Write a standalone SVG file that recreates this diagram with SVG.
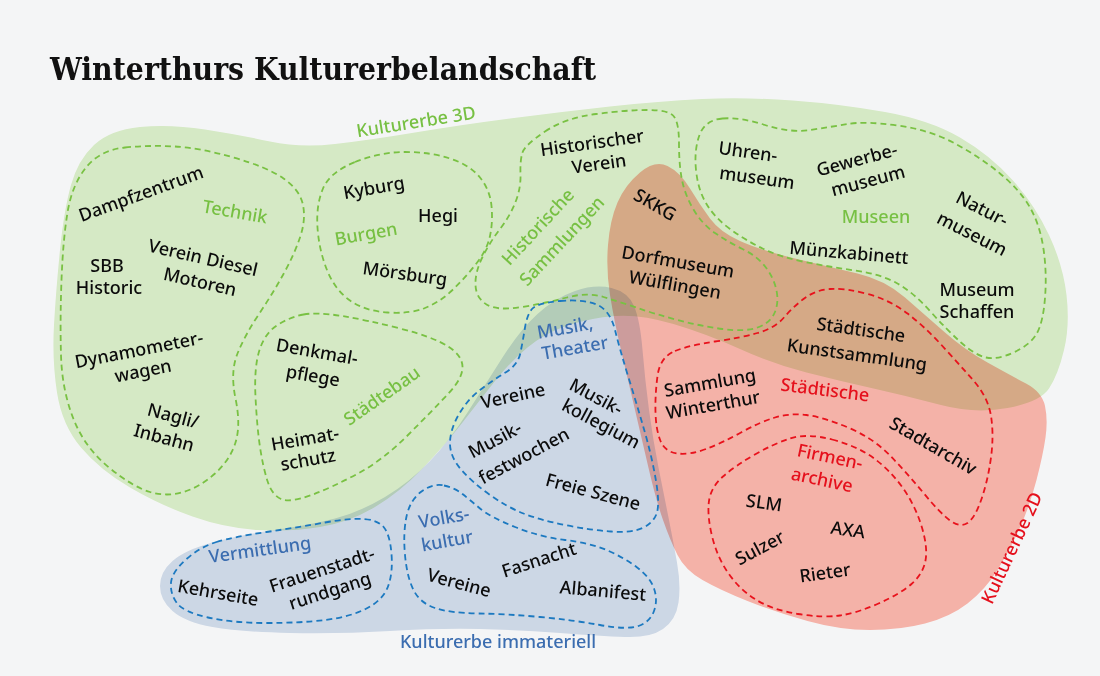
<svg xmlns="http://www.w3.org/2000/svg" width="1100" height="676" viewBox="0 0 1100 676">
<style>
.blob{mix-blend-mode:multiply;stroke:none}
.dg{fill:none;stroke:#79c143;stroke-width:1.8;stroke-dasharray:6 4}
.db{fill:none;stroke:#1c79c0;stroke-width:1.8;stroke-dasharray:6 4}
.dr{fill:none;stroke:#e8121c;stroke-width:1.8;stroke-dasharray:6 4}
text{font-family:"Noto Sans","Liberation Sans",sans-serif;font-size:18px;font-weight:500;text-anchor:middle}
.k{fill:#0b0b0b}
.g{fill:#77c043}
.b{fill:#3b6db0}
.r{fill:#e5101c}
.title{font-family:"DejaVu Serif","Liberation Serif",serif;font-weight:bold;font-size:31px;text-anchor:start;fill:#111}
</style>
<rect width="1100" height="676" fill="#f4f5f6"/>
<text class="title" x="50" y="80" textLength="546" lengthAdjust="spacingAndGlyphs">Winterthurs Kulturerbelandschaft</text>

<g id="kulturerbe-3d">
<path class="blob" fill="#dff3cc" d="M 140,127 Q 170,124 205,129.5 Q 240,135 270,141.5 Q 300,148 335,144 Q 370,140 415,132.5 Q 460,125 510,118.5 Q 560,112 610,106.5 Q 660,101 702.5,99 Q 745,97 792.5,100.5 Q 840,104 885,112 Q 930,120 960,137.5 Q 990,155 1012.5,180 Q 1035,205 1049,235 Q 1063,265 1066.5,295 Q 1070,325 1064,350 Q 1058,375 1049,388.5 Q 1040,402 1007.5,408 Q 975,414 941,405 Q 907,396 873.5,388.5 Q 840,381 806.5,372.5 Q 773,364 740,349 Q 707,334 673.5,324 Q 640,314 615,316 Q 590,318 567.5,325.5 Q 545,333 527.5,347.5 Q 510,362 495,381 Q 480,400 462.5,422.5 Q 445,445 422.5,468.5 Q 400,492 375,507 Q 350,522 320,527 Q 290,532 257.5,530 Q 225,528 192.5,516.5 Q 160,505 130,487.5 Q 100,470 81,447.5 Q 62,425 57,392.5 Q 52,360 54,325 Q 56,290 60,250 Q 64,210 71,185 Q 78,160 94,145 Q 110,130 140,127 Z"/>
</g>
<g id="kulturerbe-immateriell">
<path class="blob" fill="#d6e0ee" d="M 611.5,288 Q 628,292 634,306 Q 640,320 642.5,350 Q 645,380 649,410 Q 653,440 658.5,467.5 Q 664,495 668.5,517.5 Q 673,540 677,562.5 Q 681,585 678.5,602.5 Q 676,620 663,629 Q 650,638 625,637 Q 600,636 560,633 Q 520,630 480,629 Q 440,628 390,631 Q 340,634 290,633 Q 240,632 212.5,627 Q 185,622 172.5,611 Q 160,600 160,586 Q 160,572 172.5,561 Q 185,550 212.5,542.5 Q 240,535 275,530 Q 310,525 335,518.5 Q 360,512 385,497 Q 410,482 430,461 Q 450,440 467.5,412.5 Q 485,385 502.5,357.5 Q 520,330 537.5,314 Q 555,298 575,291 Q 595,284 611.5,288 Z"/>
</g>
<g id="kulturerbe-2d">
<path class="blob" fill="#ffb9ae" d="M 667.5,166 Q 680,172 690,188.5 Q 700,205 710,218.5 Q 720,232 740,241 Q 760,250 795,258.5 Q 830,267 857.5,273.5 Q 885,280 905,297.5 Q 925,315 945,332.5 Q 965,350 987.5,362.5 Q 1010,375 1026,383.5 Q 1042,392 1045,406 Q 1048,420 1045.5,437.5 Q 1043,455 1036.5,480 Q 1030,505 1020,527.5 Q 1010,550 997.5,570 Q 985,590 967.5,603.5 Q 950,617 925,623.5 Q 900,630 870,630 Q 840,630 807.5,621 Q 775,612 747.5,601 Q 720,590 702.5,580 Q 685,570 677.5,555 Q 670,540 663,520 Q 656,500 649,470 Q 642,440 635,410 Q 628,380 621,350 Q 614,320 610,295 Q 606,270 608,245 Q 610,220 617.5,202.5 Q 625,185 640,172.5 Q 655,160 667.5,166 Z"/>
</g>

<g id="technik">
<path class="dg" d="M 125,147.5 Q 150,145 175,146.5 Q 200,148 233.5,157.5 Q 267,167 283.5,178.5 Q 300,190 303,205 Q 306,220 300,237.5 Q 294,255 283.5,274 Q 273,293 259,314 Q 245,335 237.5,353.5 Q 230,372 235.5,398.5 Q 241,425 235.5,442.5 Q 230,460 215,473.5 Q 200,487 183.5,492 Q 167,497 150,492 Q 133,487 109,467.5 Q 85,448 73.5,419 Q 62,390 61,355 Q 60,320 61.5,280 Q 63,240 67.5,212.5 Q 72,185 86,167.5 Q 100,150 125,147.5 Z"/>
<text class="g" transform="translate(235,212) rotate(10)" dy="6">Technik</text>
<text class="k" transform="translate(141,194) rotate(-20)" dy="6">Dampfzentrum</text>
<text class="k" transform="translate(107,266)" dy="6">SBB</text>
<text class="k" transform="translate(109,288)" dy="6">Historic</text>
<text class="k" transform="translate(203,258) rotate(13)" dy="6">Verein Diesel</text>
<text class="k" transform="translate(200,282) rotate(13)" dy="6">Motoren</text>
<text class="k" transform="translate(139,350) rotate(-11)" dy="6">Dynamometer-</text>
<text class="k" transform="translate(143,371) rotate(-11)" dy="6">wagen</text>
<text class="k" transform="translate(173,416) rotate(15)" dy="6">Nagli/</text>
<text class="k" transform="translate(164,438) rotate(15)" dy="6">Inbahn</text>
</g>

<g id="burgen">
<path class="dg" d="M 355,162 Q 380,152 405,152 Q 430,152 450,158.5 Q 470,165 480,177.5 Q 490,190 491.5,206 Q 493,222 490,236 Q 487,250 476,264 Q 465,278 452.5,290 Q 440,302 425,308 Q 410,314 387.5,312.5 Q 365,311 350,300.5 Q 335,290 327,270 Q 319,250 317.5,227.5 Q 316,205 323,188.5 Q 330,172 355,162 Z"/>
<text class="g" transform="translate(366,234) rotate(-10)" dy="6">Burgen</text>
<text class="k" transform="translate(374,188) rotate(-10)" dy="6">Kyburg</text>
<text class="k" transform="translate(438,216)" dy="6">Hegi</text>
<text class="k" transform="translate(405,274) rotate(8)" dy="6">Mörsburg</text>
</g>

<g id="historische-sammlungen">
<path class="dg" d="M 545,131.5 Q 565,118 596,114 Q 627,110 647.5,110 Q 668,110 673.5,116 Q 679,122 679,143.5 Q 679,165 682,180 Q 685,195 693.5,209.5 Q 702,224 715,233 Q 728,242 742.5,249 Q 757,256 765.5,267 Q 774,278 776.5,290.5 Q 779,303 774.5,313 Q 770,323 757.5,327.5 Q 745,332 722.5,329 Q 700,326 677.5,320 Q 655,314 637.5,308 Q 620,302 603.5,297 Q 587,292 567,297.5 Q 547,303 522,307 Q 497,311 486.5,304.5 Q 476,298 475.5,285 Q 475,272 482.5,257 Q 490,242 500,229 Q 510,216 515.5,202 Q 521,188 520.5,174 Q 520,160 522.5,152.5 Q 525,145 545,131.5 Z"/>
<text class="g" transform="translate(538,227) rotate(-47)" dy="6">Historische</text>
<text class="g" transform="translate(562,241) rotate(-47)" dy="6">Sammlungen</text>
<text class="k" transform="translate(592,143) rotate(-8)" dy="6">Historischer</text>
<text class="k" transform="translate(599,164) rotate(-8)" dy="6">Verein</text>
<text class="k" transform="translate(655,205) rotate(30)" dy="6">SKKG</text>
<text class="k" transform="translate(678,262) rotate(10)" dy="6">Dorfmuseum</text>
<text class="k" transform="translate(675,285) rotate(10)" dy="6">Wülflingen</text>
</g>

<g id="museen">
<path class="dg" d="M 722.5,118.5 Q 740,117 765,125 Q 790,133 810,130 Q 830,127 847.5,124 Q 865,121 897.5,125.5 Q 930,130 955,143.5 Q 980,157 1000,173.5 Q 1020,190 1030,207.5 Q 1040,225 1043.5,249 Q 1047,273 1045,298 Q 1043,323 1036.5,334 Q 1030,345 1013.5,352.5 Q 997,360 986,357.5 Q 975,355 961,342.5 Q 947,330 930,311 Q 913,292 896.5,283 Q 880,274 855,270.5 Q 830,267 805,262 Q 780,257 762.5,248.5 Q 745,240 730,229 Q 715,218 706.5,204 Q 698,190 696,170 Q 694,150 699.5,135 Q 705,120 722.5,118.5 Z"/>
<text class="g" transform="translate(876,217)" dy="6">Museen</text>
<text class="k" transform="translate(748,152) rotate(8)" dy="6">Uhren-</text>
<text class="k" transform="translate(757,178) rotate(8)" dy="6">museum</text>
<text class="k" transform="translate(857,160) rotate(-15)" dy="6">Gewerbe-</text>
<text class="k" transform="translate(868,181) rotate(-15)" dy="6">museum</text>
<text class="k" transform="translate(982,209) rotate(27)" dy="6">Natur-</text>
<text class="k" transform="translate(972,234) rotate(27)" dy="6">museum</text>
<text class="k" transform="translate(849,253) rotate(5)" dy="6">Münzkabinett</text>
<text class="k" transform="translate(977,290)" dy="6">Museum</text>
<text class="k" transform="translate(977,312)" dy="6">Schaffen</text>
</g>

<g id="staedtebau">
<path class="dg" d="M 303.5,314.5 Q 317,312 342,316 Q 367,320 400,328.5 Q 433,337 447.5,346 Q 462,355 462.5,366.5 Q 463,378 448,394 Q 433,410 408,435 Q 383,460 358,473.5 Q 333,487 311.5,495 Q 290,503 281,499 Q 272,495 267.5,481 Q 263,467 260,447 Q 257,427 255.5,397 Q 254,367 259.5,350 Q 265,333 277.5,325 Q 290,317 303.5,314.5 Z"/>
<text class="g" transform="translate(382,396) rotate(-35)" dy="6">Städtebau</text>
<text class="k" transform="translate(317,352) rotate(10)" dy="6">Denkmal-</text>
<text class="k" transform="translate(313,376) rotate(10)" dy="6">pflege</text>
<text class="k" transform="translate(305,439) rotate(-10)" dy="6">Heimat-</text>
<text class="k" transform="translate(308,460) rotate(-10)" dy="6">schutz</text>
</g>

<g id="staedtische">
<path class="dr" d="M 675,351 Q 690,345 715,341.5 Q 740,338 757.5,333 Q 775,328 783.5,318 Q 792,308 803.5,299 Q 815,290 830,289 Q 845,288 867.5,294 Q 890,300 907.5,313.5 Q 925,327 941.5,345 Q 958,363 973,380 Q 988,397 991,416 Q 994,435 991,457.5 Q 988,480 981.5,499 Q 975,518 967.5,523 Q 960,528 950,520.5 Q 940,513 923.5,493 Q 907,473 890,455.5 Q 873,438 848,427.5 Q 823,417 806.5,415 Q 790,413 775,417.5 Q 760,422 741,432.5 Q 722,443 706,449 Q 690,455 677.5,453.5 Q 665,452 660.5,441 Q 656,430 655.5,412.5 Q 655,395 657.5,376 Q 660,357 675,351 Z"/>
<text class="r" transform="translate(825,390) rotate(7)" dy="6">Städtische</text>
<text class="k" transform="translate(861,330) rotate(8)" dy="6">Städtische</text>
<text class="k" transform="translate(857,355) rotate(8)" dy="6">Kunstsammlung</text>
<text class="k" transform="translate(710,383) rotate(-10)" dy="6">Sammlung</text>
<text class="k" transform="translate(713,405) rotate(-10)" dy="6">Winterthur</text>
<text class="k" transform="translate(933,446) rotate(30)" dy="6">Stadtarchiv</text>
</g>

<g id="firmenarchive">
<path class="dr" d="M 832,439.5 Q 857,446 873.5,458 Q 890,470 902.5,487.5 Q 915,505 921.5,526 Q 928,547 925.5,560.5 Q 923,574 911.5,584 Q 900,594 878.5,603.5 Q 857,613 840,615.5 Q 823,618 798,614 Q 773,610 756.5,600 Q 740,590 728.5,573.5 Q 717,557 712,536 Q 707,515 709,501 Q 711,487 723,476.5 Q 735,466 754,455 Q 773,444 790,438.5 Q 807,433 832,439.5 Z"/>
<text class="r" transform="translate(830,457) rotate(12)" dy="6">Firmen-</text>
<text class="r" transform="translate(822,480) rotate(12)" dy="6">archive</text>
<text class="k" transform="translate(764,503) rotate(8)" dy="6">SLM</text>
<text class="k" transform="translate(848,530) rotate(8)" dy="6">AXA</text>
<text class="k" transform="translate(760,548) rotate(-28)" dy="6">Sulzer</text>
<text class="k" transform="translate(825,573) rotate(-8)" dy="6">Rieter</text>
</g>

<g id="musik-theater">
<path class="db" d="M 560,301 Q 583,299 596.5,304.5 Q 610,310 615,330 Q 620,350 628.5,377.5 Q 637,405 644.5,431 Q 652,457 656,481 Q 660,505 656.5,514 Q 653,523 642.5,528 Q 632,533 611,531.5 Q 590,530 565,525 Q 540,520 523.5,513.5 Q 507,507 490,495 Q 473,483 461.5,470 Q 450,457 450,443.5 Q 450,430 458.5,415 Q 467,400 480,390 Q 493,380 505.5,372.5 Q 518,365 520.5,352.5 Q 523,340 525,327.5 Q 527,315 532,309 Q 537,303 560,301 Z"/>
<text class="b" transform="translate(565,328) rotate(-10)" dy="6">Musik,</text>
<text class="b" transform="translate(575,348) rotate(-10)" dy="6">Theater</text>
<text class="k" transform="translate(513,396) rotate(-12)" dy="6">Vereine</text>
<text class="k" transform="translate(596,397) rotate(28)" dy="6">Musik-</text>
<text class="k" transform="translate(601,424) rotate(28)" dy="6">kollegium</text>
<text class="k" transform="translate(495,440) rotate(-28)" dy="6">Musik-</text>
<text class="k" transform="translate(524,456) rotate(-28)" dy="6">festwochen</text>
<text class="k" transform="translate(593,492) rotate(15)" dy="6">Freie Szene</text>
</g>

<g id="volkskultur">
<path class="db" d="M 444,485.5 Q 455,488 462.5,494 Q 470,500 480,508.5 Q 490,517 515,527 Q 540,537 565,540 Q 590,543 606.5,550 Q 623,557 636.5,567 Q 650,577 654,588.5 Q 658,600 654,611 Q 650,622 638.5,626 Q 627,630 600,625 Q 573,620 540,617 Q 507,614 478.5,613.5 Q 450,613 435,608 Q 420,603 413.5,590 Q 407,577 405,555 Q 403,533 406.5,516.5 Q 410,500 421.5,491.5 Q 433,483 444,485.5 Z"/>
<text class="b" transform="translate(444,518) rotate(-10)" dy="6">Volks-</text>
<text class="b" transform="translate(447,541) rotate(-10)" dy="6">kultur</text>
<text class="k" transform="translate(459,583) rotate(15)" dy="6">Vereine</text>
<text class="k" transform="translate(539,560) rotate(-18)" dy="6">Fasnacht</text>
<text class="k" transform="translate(603,591) rotate(5)" dy="6">Albanifest</text>
</g>

<g id="vermittlung">
<path class="db" d="M 216.5,542 Q 233,537 266.5,532 Q 300,527 325,522.5 Q 350,518 364,519 Q 378,520 384,527.5 Q 390,535 391.5,554 Q 393,573 388,586.5 Q 383,600 366.5,608.5 Q 350,617 325,620 Q 300,623 266.5,623 Q 233,623 208,617.5 Q 183,612 176.5,602.5 Q 170,593 171,582.5 Q 172,572 186,559.5 Q 200,547 216.5,542 Z"/>
<text class="b" transform="translate(260,550) rotate(-8)" dy="6">Vermittlung</text>
<text class="k" transform="translate(218,593) rotate(10)" dy="6">Kehrseite</text>
<text class="k" transform="translate(322,570) rotate(-18)" dy="6">Frauenstadt-</text>
<text class="k" transform="translate(330,591) rotate(-18)" dy="6">rundgang</text>
</g>

<g id="region-labels">
<text class="g" transform="translate(416,122) rotate(-9)" dy="6">Kulturerbe 3D</text>
<text class="b" transform="translate(498,642)" dy="6">Kulturerbe immateriell</text>
<text class="r" transform="translate(1012,548) rotate(-65)" dy="6">Kulturerbe 2D</text>
</g>
<g id="connectors"/>
</svg>
